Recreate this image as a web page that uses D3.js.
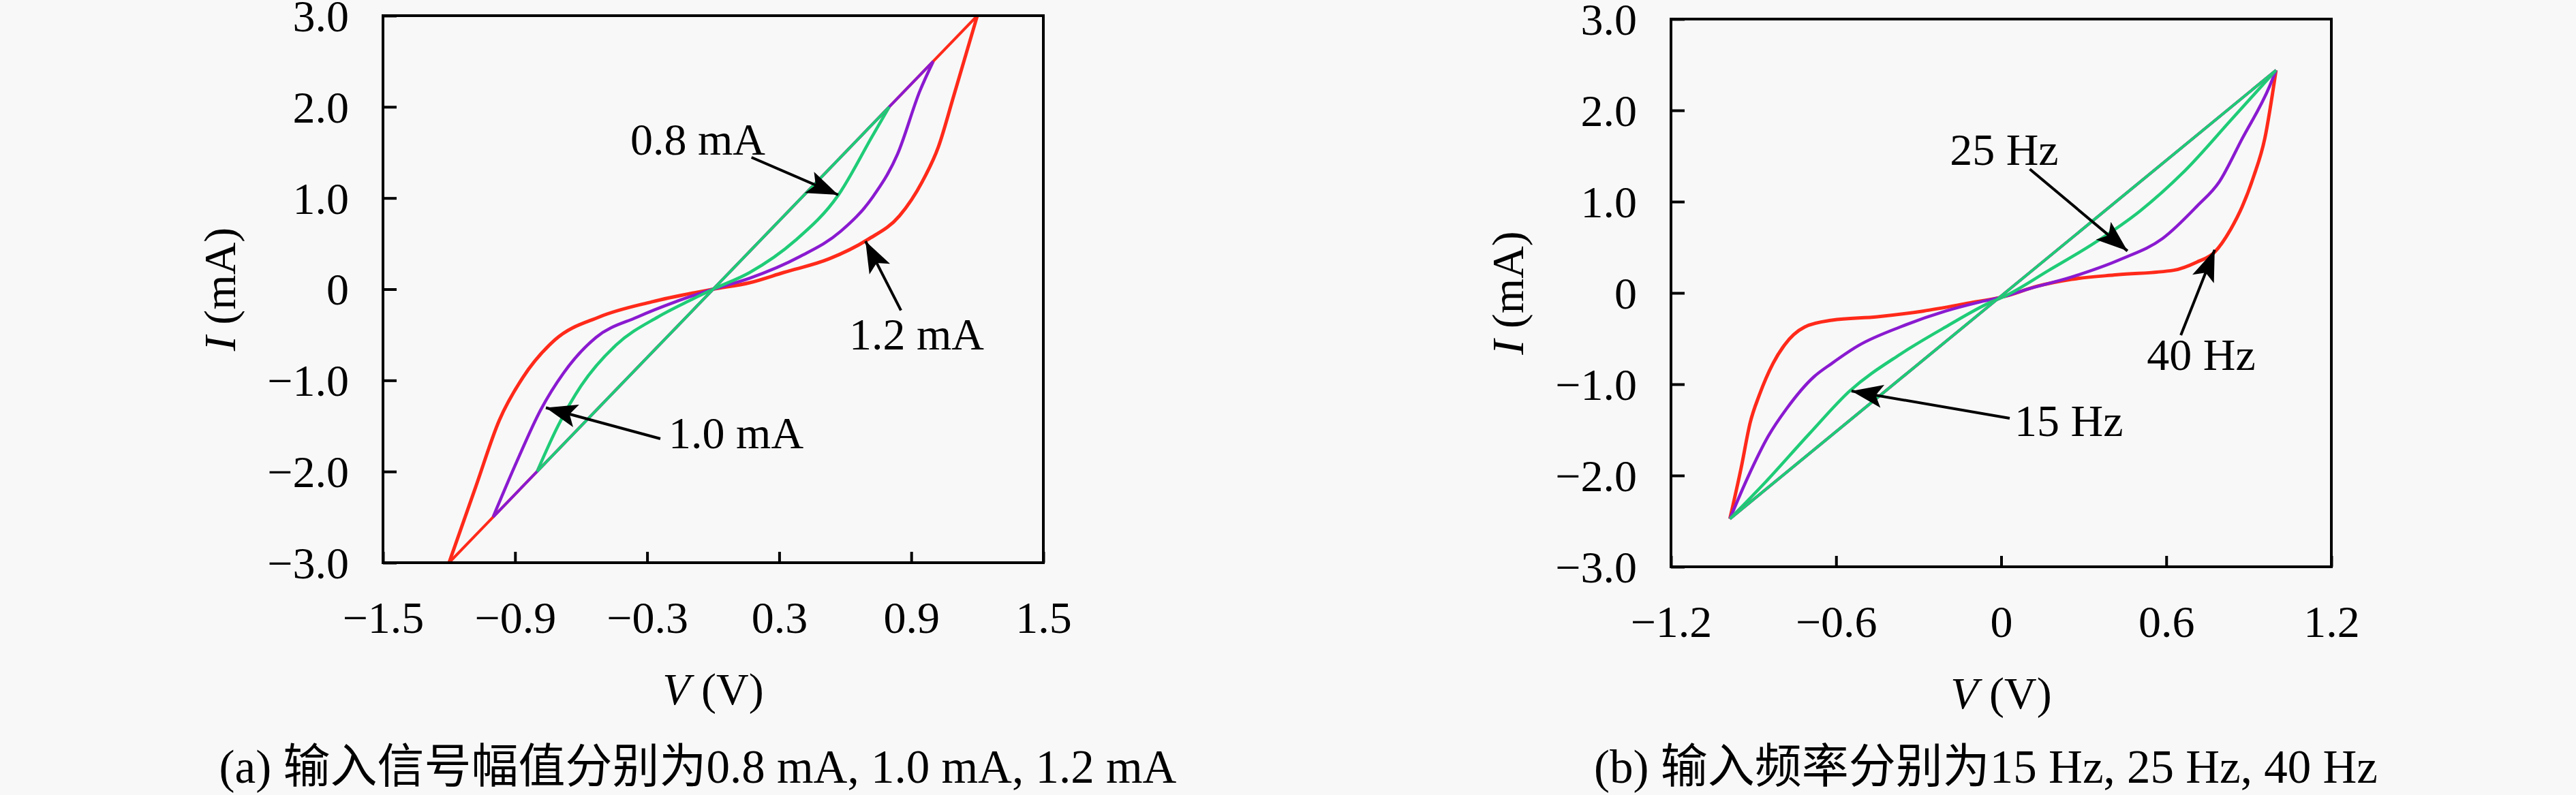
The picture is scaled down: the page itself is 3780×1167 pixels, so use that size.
<!DOCTYPE html>
<html>
<head>
<meta charset="utf-8">
<script src="https://cdn.jsdelivr.net/npm/d3@7"></script>
<style>
  body { margin: 0; background: #f8f8f8; }
  svg { display: block; }
  text { font-family: "Liberation Serif", "Noto Sans CJK SC", serif; fill: #000; }
</style>
</head>
<body>
<div id="chart"></div>
<script>
// (a) loops for input amplitudes, points as [V, I]
var amp08 = [[-0.8,-2.0],[-0.705,-1.5],[-0.6,-1.06],[-0.44,-0.61],[-0.252,-0.306],[-0.119,-0.139],[0,0],
  [0.166,0.183],[0.372,0.532],[0.568,1.03],[0.723,1.678],[0.8,2.0]];
var amp10 = [[-1.0,-2.5],[-0.892,-1.89],[-0.785,-1.33],[-0.679,-0.917],[-0.532,-0.528],[-0.345,-0.306],[-0.172,-0.139],[0,0],
  [0.166,0.121],[0.393,0.357],[0.578,0.632],[0.723,1.005],[0.837,1.478],[0.94,2.18],[1.0,2.5]];
var amp12 = [[-1.2,-3.0],[-1.079,-2.17],[-0.972,-1.44],[-0.865,-0.97],[-0.719,-0.556],[-0.519,-0.306],[-0.279,-0.139],[0,0],
  [0.166,0.071],[0.32,0.183],[0.527,0.333],[0.702,0.544],[0.847,0.806],[0.95,1.18],[1.022,1.553],[1.094,2.13],[1.2,3.0]];

// (b) loops for input frequencies
var hz15 = [[-0.986,-2.475],[-0.862,-2.09],[-0.697,-1.542],[-0.549,-1.07],[-0.367,-0.672],[-0.202,-0.373],[-0.037,-0.1],[0.01,-0.04],
  [0.174,0.249],[0.339,0.547],[0.504,0.896],[0.669,1.343],[0.834,1.89],[0.999,2.44]];
var hz25 = [[-0.986,-2.475],[-0.92,-2.015],[-0.846,-1.567],[-0.78,-1.269],[-0.681,-0.92],[-0.615,-0.771],[-0.516,-0.572],[-0.367,-0.373],
  [-0.202,-0.199],[-0.078,-0.1],[0.01,-0.04],[0.091,0.037],[0.256,0.174],[0.438,0.373],[0.587,0.597],[0.71,0.945],[0.793,1.219],
  [0.876,1.69],[0.975,2.26],[0.999,2.44]];
var hz40 = [[-0.986,-2.475],[-0.945,-1.916],[-0.912,-1.418],[-0.879,-1.119],[-0.829,-0.771],[-0.788,-0.572],[-0.714,-0.373],[-0.615,-0.299],
  [-0.45,-0.261],[-0.284,-0.199],[-0.119,-0.112],[0.01,-0.04],[0.133,0.075],[0.256,0.149],[0.422,0.199],[0.628,0.249],[0.71,0.336],
  [0.776,0.448],[0.834,0.696],[0.876,0.945],[0.917,1.27],[0.958,1.69],[0.999,2.44]];

var ampTicksX = [-1.5,-0.9,-0.3,0.3,0.9,1.5];
var hzTicksX = [-1.2,-0.6,0,0.6,1.2];
var ticksY = [-3,-2,-1,0,1,2,3];

// annotations: label [V, I], arrow tail [V, I], arrow tip [V, I]
var ampNotes = [
  {text: "0.8 mA", at: [-0.07,1.64], from: [0.174,1.446], to: [0.568,1.035]},
  {text: "1.2 mA", at: [0.924,-0.497], from: [0.853,-0.233], to: [0.692,0.527]},
  {text: "1.0 mA", at: [0.104,-1.58], from: [-0.24,-1.64], to: [-0.76,-1.30]}
];
var hzNotes = [
  {text: "25 Hz", at: [0.011,1.567], from: [0.104,1.356], to: [0.459,0.46]},
  {text: "40 Hz", at: [0.727,-0.679], from: [0.653,-0.463], to: [0.776,0.472]},
  {text: "15 Hz", at: [0.246,-1.403], from: [0.031,-1.373], to: [-0.544,-1.075]}
];

var captionA = "(a) 输入信号幅值分别为0.8 mA, 1.0 mA, 1.2 mA";
var captionB = "(b) 输入频率分别为15 Hz, 25 Hz, 40 Hz";

var colors = {red: "#ff2a1a", purple: "#8a1ad0", green: "#1fcc77"};

var W = 3780, H = 1167;
var svg = d3.select("#chart").append("svg").attr("width", W).attr("height", H);
svg.append("rect").attr("width", W).attr("height", H).attr("fill", "#f8f8f8");

svg.append("defs").append("marker")
  .attr("id", "head")
  .attr("markerUnits", "userSpaceOnUse")
  .attr("viewBox", "-2 -20 52 40")
  .attr("markerWidth", 52).attr("markerHeight", 40)
  .attr("refX", 46).attr("refY", 0)
  .attr("orient", "auto")
  .append("path")
  .attr("d", "M0,-17 L46,0 L0,17 L10,0 Z")
  .attr("fill", "#000");

function fmt(v){
  if (v === 0) return "0";
  return d3.format(".1f")(v);
}

function panel(opt){
  var g = svg.append("g").attr("transform", "translate(" + opt.left + "," + opt.top + ")");
  var x = d3.scaleLinear().domain(opt.xDomain).range([0, opt.w]);
  var y = d3.scaleLinear().domain([-3, 3]).range([opt.h, 0]);

  var line = d3.line().x(function(d){return x(d[0]);}).y(function(d){return y(d[1]);});
  var curve = d3.line().x(function(d){return x(d[0]);}).y(function(d){return y(d[1]);}).curve(d3.curveMonotoneX);

  // loops: curved branch + straight chord between the two tips
  opt.series.forEach(function(s){
    g.append("path").attr("d", curve(s.data))
      .attr("fill", "none").attr("stroke", s.color).attr("stroke-width", s.width)
      .attr("stroke-linejoin", "round");
  });
  opt.series.forEach(function(s){
    var ends = [s.data[0], s.data[s.data.length - 1]];
    g.append("path").attr("d", line(ends))
      .attr("fill", "none").attr("stroke", s.color).attr("stroke-width", 4);
  });

  var ax = g.append("g").attr("transform", "translate(0," + opt.h + ")")
    .call(d3.axisBottom(x).tickValues(opt.xTicks).tickFormat(fmt).tickSizeInner(-16).tickSizeOuter(0).tickPadding(56));
  var ay = g.append("g")
    .call(d3.axisLeft(y).tickValues(ticksY).tickFormat(fmt).tickSizeInner(-20).tickSizeOuter(0).tickPadding(50));
  [ax, ay].forEach(function(a){
    a.select(".domain").remove();
    a.selectAll(".tick line").attr("stroke", "#000").attr("stroke-width", 4);
    a.selectAll(".tick text").style("font-size", "66px").style("font-family", "Liberation Serif");
  });
  ay.selectAll(".tick text").attr("dy", "0.34em");

  g.append("rect").attr("width", opt.w).attr("height", opt.h)
    .attr("fill", "none").attr("stroke", "#000").attr("stroke-width", 4);

  opt.notes.forEach(function(n){
    g.append("line")
      .attr("x1", x(n.from[0])).attr("y1", y(n.from[1]))
      .attr("x2", x(n.to[0])).attr("y2", y(n.to[1]))
      .attr("stroke", "#000").attr("stroke-width", 4)
      .attr("marker-end", "url(#head)");
    g.append("text")
      .attr("x", x(n.at[0])).attr("y", y(n.at[1]))
      .attr("dy", "0.34em")
      .attr("text-anchor", "middle")
      .style("font-size", "66px")
      .text(n.text);
  });

  var yt = g.append("text")
    .attr("transform", "translate(-239," + (opt.h / 2) + ") rotate(-90)")
    .attr("text-anchor", "middle").attr("dy", "0.34em")
    .style("font-size", "66px");
  yt.append("tspan").style("font-style", "italic").text("I");
  yt.append("tspan").text(" (mA)");

  var xt = g.append("text")
    .attr("x", opt.w / 2).attr("y", opt.h + 186)
    .attr("text-anchor", "middle").attr("dy", "0.34em")
    .style("font-size", "66px");
  xt.append("tspan").style("font-style", "italic").text("V");
  xt.append("tspan").text(" (V)");

  g.append("text")
    .attr("x", opt.capX - opt.left).attr("y", 1126 - opt.top)
    .attr("text-anchor", "middle").attr("dy", "0.34em")
    .style("font-size", "69px")
    .text(opt.caption);
}

panel({
  left: 562, top: 23, w: 969, h: 803,
  xDomain: [-1.5, 1.5], xTicks: ampTicksX,
  series: [
    {data: amp12, color: colors.red, width: 5},
    {data: amp10, color: colors.purple, width: 4.5},
    {data: amp08, color: colors.green, width: 4.5}
  ],
  notes: ampNotes, caption: captionA, capX: 1024
});

panel({
  left: 2452, top: 28, w: 969, h: 804,
  xDomain: [-1.2, 1.2], xTicks: hzTicksX,
  series: [
    {data: hz40, color: colors.red, width: 5},
    {data: hz25, color: colors.purple, width: 4.5},
    {data: hz15, color: colors.green, width: 4.5}
  ],
  notes: hzNotes, caption: captionB, capX: 2914
});
</script>
</body>
</html>
